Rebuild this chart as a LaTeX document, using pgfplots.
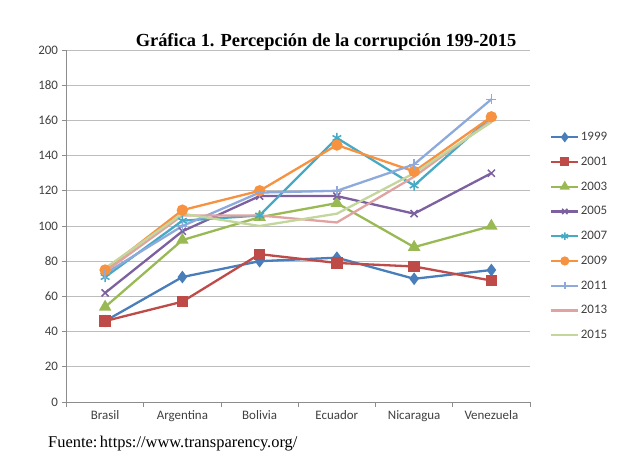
\documentclass[border=0pt]{standalone}
\usepackage{fontspec}
\setmainfont{Liberation Serif}
\newfontfamily\calfont{Carlito}
\usepackage{pgfplots}
\pgfplotsset{compat=1.18}

\definecolor{c1999}{HTML}{4A7EBB}
\definecolor{c2001}{HTML}{BE4B48}
\definecolor{c2003}{HTML}{98B954}
\definecolor{c2005}{HTML}{7D60A0}
\definecolor{c2007}{HTML}{46AAC5}
\definecolor{c2009}{HTML}{F69240}
\definecolor{c2011}{HTML}{8EA9DB}
\definecolor{c2013}{HTML}{E0A3A1}
\definecolor{c2015}{HTML}{C3D69B}
\definecolor{gridgray}{HTML}{BDBDBD}
\definecolor{axisgray}{HTML}{8C8C8C}

\begin{document}
\begin{tikzpicture}
\path[use as bounding box] (0,0) rectangle (640bp,475bp);
\node[anchor=base, font=\fontsize{18.5}{20}\selectfont\bfseries] at (326bp,428bp)
  {Gráfica 1. Percepción de la corrupción 199-2015};
\node[anchor=base west, inner sep=0pt, font=\fontsize{16.5}{18}\selectfont] at (48bp,28bp)
  {Fuente:\kern-0.1em\ https://www.transparency.org/};

\begin{axis}[
    scale only axis,
    width=463.5bp, height=352bp,
    at={(66.5bp,73bp)}, anchor=south west,
    xmin=-0.5, xmax=5.5,
    ymin=0, ymax=200,
    axis lines*=left,
    axis line style={axisgray, line width=0.8bp},
    ytick={0,20,...,200},
    ymajorgrids,
    major grid style={gridgray, line width=0.8bp},
    xtick={0,1,2,3,4,5},
    xticklabels={Brasil, Argentina, Bolivia, Ecuador, Nicaragua, Venezuela},
    minor xtick={-0.5,0.5,...,5.5},
    major x tick style={draw=none},
    tick style={axisgray, line width=0.8bp},
    tick align=outside,
    major tick length=5bp,
    minor tick length=5bp,
    ticklabel style={font=\calfont\fontsize{13}{15}\selectfont, text=black!75},
    /pgf/number format/assume math mode=true,
    legend style={
        at={(1.043,0.788)}, anchor=north west,
        draw=none, fill=none, inner sep=0pt,
        font=\calfont\fontsize{13}{15}\selectfont, text=black!75,
        nodes={inner sep=1.5bp, minimum height=24.75bp},
        row sep=0pt,
    },
    legend cell align=left,
    legend image code/.code={
        \draw[mark repeat=2, mark phase=2, #1, every mark/.append style={scale=0.75}]
            plot coordinates {(0bp,0bp) (13.5bp,0bp) (27bp,0bp)};
    },
    every axis plot/.append style={line width=2.3bp},
]
\addplot[c1999, mark=diamond*, mark size=4.5bp, mark options={solid}]
    coordinates {(0,46) (1,71) (2,80) (3,82) (4,70) (5,75)};
\addplot[c2001, mark=square*, mark size=4.5bp, mark options={solid}]
    coordinates {(0,46) (1,57) (2,84) (3,79) (4,77) (5,69)};
\addplot[c2003, mark=triangle*, mark size=5bp, mark options={solid}]
    coordinates {(0,54) (1,92) (2,105) (3,113) (4,88) (5,100)};
\addplot[c2005, mark=x, mark size=5bp, mark options={solid, line width=1.5bp}]
    coordinates {(0,62) (1,97) (2,117) (3,117) (4,107) (5,130)};
\addplot[c2007, mark=asterisk, mark size=5bp, mark options={solid, line width=1.5bp}]
    coordinates {(0,71) (1,103) (2,106) (3,150) (4,123) (5,162)};
\addplot[c2009, mark=*, mark size=4.5bp, mark options={solid}]
    coordinates {(0,75) (1,109) (2,120) (3,146) (4,131) (5,162)};
\addplot[c2011, mark=+, mark size=5bp, mark options={solid, line width=1.5bp}]
    coordinates {(0,73) (1,100) (2,119) (3,120) (4,135) (5,172)};
\addplot[c2013]
    coordinates {(0,74) (1,106) (2,106) (3,102) (4,128) (5,160)};
\addplot[c2015]
    coordinates {(0,76) (1,107) (2,100) (3,107) (4,130) (5,159)};
\legend{1999, 2001, 2003, 2005, 2007, 2009, 2011, 2013, 2015}
\end{axis}
\end{tikzpicture}
\end{document}
